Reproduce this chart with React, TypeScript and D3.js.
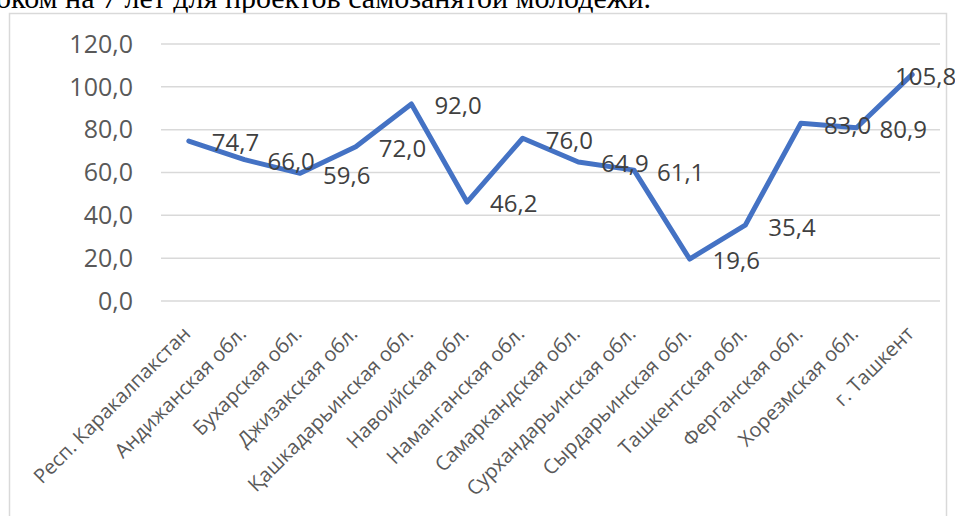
import React, { useEffect, useRef } from 'react';
import * as d3 from 'd3';

const categories = [
  'Респ. Каракалпакстан',
  'Андижанская обл.',
  'Бухарская обл.',
  'Джизакская обл.',
  'Қашкадарьинская обл.',
  'Навоийская обл.',
  'Наманганская обл.',
  'Самаркандская обл.',
  'Сурхандарьинская обл.',
  'Сырдарьинская обл.',
  'Ташкентская обл.',
  'Ферганская обл.',
  'Хорезмская обл.',
  'г. Ташкент',
];
const values = [74.7, 66.0, 59.6, 72.0, 92.0, 46.2, 76.0, 64.9, 61.1, 19.6, 35.4, 83.0, 80.9, 105.8];
const yTicks = [0, 20, 40, 60, 80, 100, 120];
const headline = 'сроком на 7 лет для проектов самозанятой молодежи.';

const W = 955;
const H = 516;

function App() {
  const svgRef = useRef<SVGSVGElement>(null);

  useEffect(() => {
    document.body.style.margin = '0';
    const svg = d3.select(svgRef.current).attr('width', W).attr('height', H);
    svg.selectAll('*').remove();

    const fmt = (v: number) => v.toFixed(1).replace('.', ',');

    const x = d3.scalePoint<string>().domain(categories).range([161, 940]).padding(0.5);
    const y = d3.scaleLinear().domain([0, 120]).range([301, 44]);

    // text of the document above the chart, cut at the top
    svg
      .append('text')
      .attr('x', 651)
      .attr('y', 8)
      .attr('text-anchor', 'end')
      .attr('font-family', '"Liberation Serif", serif')
      .attr('font-size', 30)
      .attr('fill', '#000')
      .text(headline);

    // chart area border
    svg
      .append('rect')
      .attr('x', 9.5)
      .attr('y', 13.5)
      .attr('width', 937)
      .attr('height', 530)
      .attr('fill', '#fff')
      .attr('stroke', '#d9d9d9')
      .attr('stroke-width', 1.5);

    svg
      .append('g')
      .selectAll('line')
      .data(yTicks)
      .join('line')
      .attr('x1', 161)
      .attr('x2', 940)
      .attr('y1', d => y(d))
      .attr('y2', d => y(d))
      .attr('stroke', '#d9d9d9')
      .attr('stroke-width', 1.5);

    svg
      .append('g')
      .selectAll('text')
      .data(yTicks)
      .join('text')
      .attr('x', 133)
      .attr('y', d => y(d))
      .attr('dy', '0.35em')
      .attr('text-anchor', 'end')
      .attr('font-family', '"Open Sans", sans-serif')
      .attr('font-size', 25)
      .attr('fill', '#595959')
      .text(d => fmt(d));

    svg
      .append('g')
      .selectAll('text')
      .data(categories)
      .join('text')
      .attr('transform', d => `translate(${(x(d) as number) - 2}, 330) rotate(-45)`)
      .attr('dy', '0.35em')
      .attr('text-anchor', 'end')
      .attr('font-family', '"Open Sans", sans-serif')
      .attr('font-size', 20)
      .attr('fill', '#595959')
      .text(d => d);

    const line = d3
      .line<number>()
      .x((d, i) => x(categories[i]) as number)
      .y(d => y(d));

    svg
      .append('path')
      .datum(values)
      .attr('d', line)
      .attr('fill', 'none')
      .attr('stroke', '#4472C4')
      .attr('stroke-width', 5)
      .attr('stroke-linejoin', 'round')
      .attr('stroke-linecap', 'round');

    // data labels to the right of each point, pulled back in at the right edge
    svg
      .append('g')
      .selectAll('text')
      .data(values)
      .join('text')
      .attr('x', (d, i) => Math.min((x(categories[i]) as number) + 23, 895))
      .attr('y', d => y(d) + 2)
      .attr('dy', '0.35em')
      .attr('font-family', '"Open Sans", sans-serif')
      .attr('font-size', 24)
      .attr('fill', '#404040')
      .text(d => fmt(d));
  }, []);

  return <svg ref={svgRef} style={{ display: 'block' }}></svg>;
}

export default App;
